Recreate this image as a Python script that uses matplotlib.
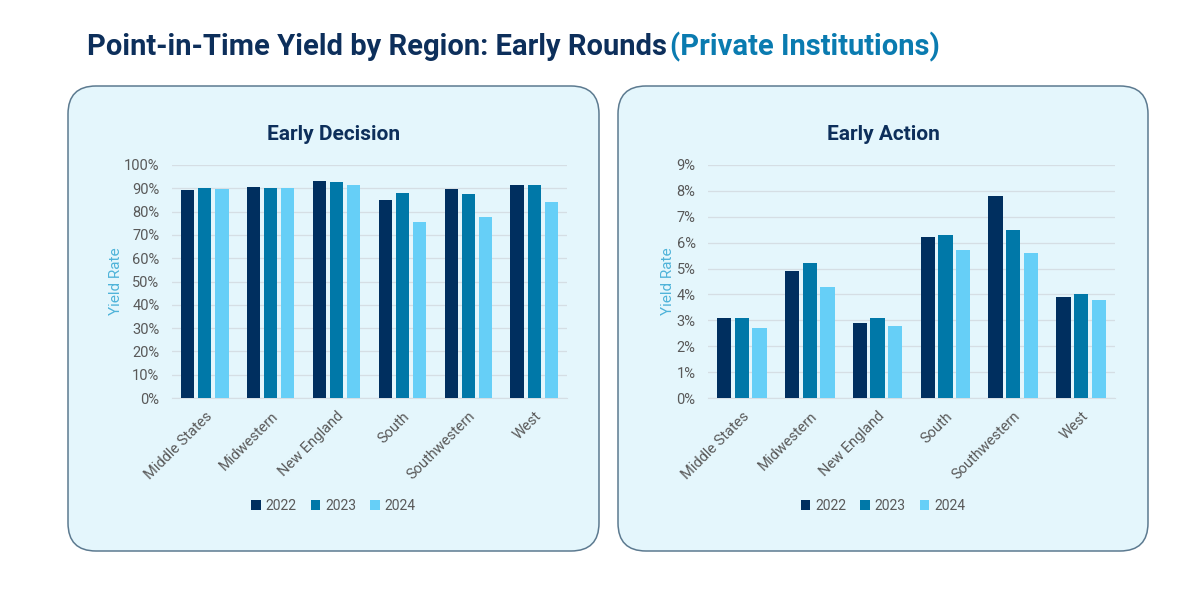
import matplotlib.pyplot as plt
import numpy as np
from matplotlib.patches import FancyBboxPatch
from matplotlib.ticker import FuncFormatter

plt.rcParams['font.family'] = ['Roboto', 'DejaVu Sans']

# data
regions = ['Middle States', 'Midwestern', 'New England', 'South', 'Southwestern', 'West']
years = ['2022', '2023', '2024']

ed_2022 = [89.1, 90.4, 93.1, 85.1, 89.6, 91.6]
ed_2023 = [90.0, 90.0, 92.7, 88.0, 87.6, 91.6]
ed_2024 = [89.6, 90.0, 91.3, 75.5, 77.5, 84.0]

ea_2022 = [3.1, 4.9, 2.9, 6.2, 7.8, 3.9]
ea_2023 = [3.1, 5.2, 3.1, 6.3, 6.5, 4.0]
ea_2024 = [2.7, 4.3, 2.8, 5.7, 5.6, 3.8]

colors = ['#002F5F', '#0078A8', '#66CFF7']
navy = '#0D2F5B'
teal = '#0A7BB0'
tick_col = '#595959'

fig = plt.figure(figsize=(12, 5.93), dpi=100)
fig.patch.set_facecolor('white')

W, H = 1200.0, 593.0

# rounded panels (inches)
panels = [(0.68, 5.99), (6.18, 11.48)]
for x0, x1 in panels:
    box = FancyBboxPatch((x0, 0.42), x1 - x0, 4.65,
                         boxstyle='round,pad=0,rounding_size=0.28',
                         transform=fig.dpi_scale_trans,
                         facecolor='#E4F6FC', edgecolor='#5C7A90', linewidth=1.1,
                         zorder=-5)
    fig.patches.append(box)


def draw_panel(rect, series, title, ymax, step, width, panel):
    ax = fig.add_axes(rect)
    ax.set_facecolor('none')
    x = np.arange(len(regions))
    offs = [-0.26, 0, 0.26]
    for vals, off, c, yr in zip(series, offs, colors, years):
        ax.bar(x + off, vals, width=width, color=c, label=yr, zorder=3)
    ax.set_ylim(0, ymax)
    ax.set_yticks(np.arange(0, ymax + step / 2, step))
    ax.yaxis.set_major_formatter(FuncFormatter(lambda v, p: f'{v:.0f}%'))
    ax.set_xlim(-0.5, len(regions) - 0.5)
    ax.set_xticks(x)
    ax.set_xticklabels(regions, rotation=45, ha='right', rotation_mode='anchor')
    ax.tick_params(axis='both', length=0, colors=tick_col, labelsize=10.5)
    ax.tick_params(axis='x', pad=8)
    ax.tick_params(axis='y', pad=9)
    ax.grid(axis='y', color='#D5DEE4', linewidth=0.9, zorder=0)
    for s in ['top', 'right', 'left']:
        ax.spines[s].set_visible(False)
    ax.spines['bottom'].set_color('#D5DEE4')
    ax.set_ylabel('Yield Rate', color='#4FB3D9', fontsize=11, labelpad=1)

    # title and legend centred on the panel, not the axes
    cx = (panel[0] + panel[1]) / 2 / 12.0
    fig.text(cx, 1 - 135 / H, title, fontsize=15, fontweight='bold', color=navy,
             ha='center', va='center')
    fig.legend(*ax.get_legend_handles_labels(), loc='center', bbox_to_anchor=(cx, 1 - 506 / H),
               ncol=3, frameon=False, fontsize=10, handlelength=0.7, handleheight=0.7,
               handletextpad=0.35, columnspacing=1.0, labelcolor=tick_col)
    return ax


draw_panel([172 / W, 1 - 398 / H, 395 / W, 233 / H], [ed_2022, ed_2023, ed_2024],
           'Early Decision', 100, 10, 0.2, panels[0])
draw_panel([708 / W, 1 - 398 / H, 407 / W, 233 / H], [ea_2022, ea_2023, ea_2024],
           'Early Action', 9, 1, 0.21, panels[1])

# title in two colours
t1 = fig.text(87 / W, 1 - 47 / H, 'Point-in-Time Yield by Region: Early Rounds',
              fontsize=21, fontweight='bold', color=navy, va='center')
fig.canvas.draw()
bb = t1.get_window_extent()
fig.text((bb.x1 + 3) / fig.bbox.width, 1 - 47 / H, '(Private Institutions)',
         fontsize=21, fontweight='bold', color=teal, va='center')

fig.savefig('out.png', dpi=100, facecolor='white')
